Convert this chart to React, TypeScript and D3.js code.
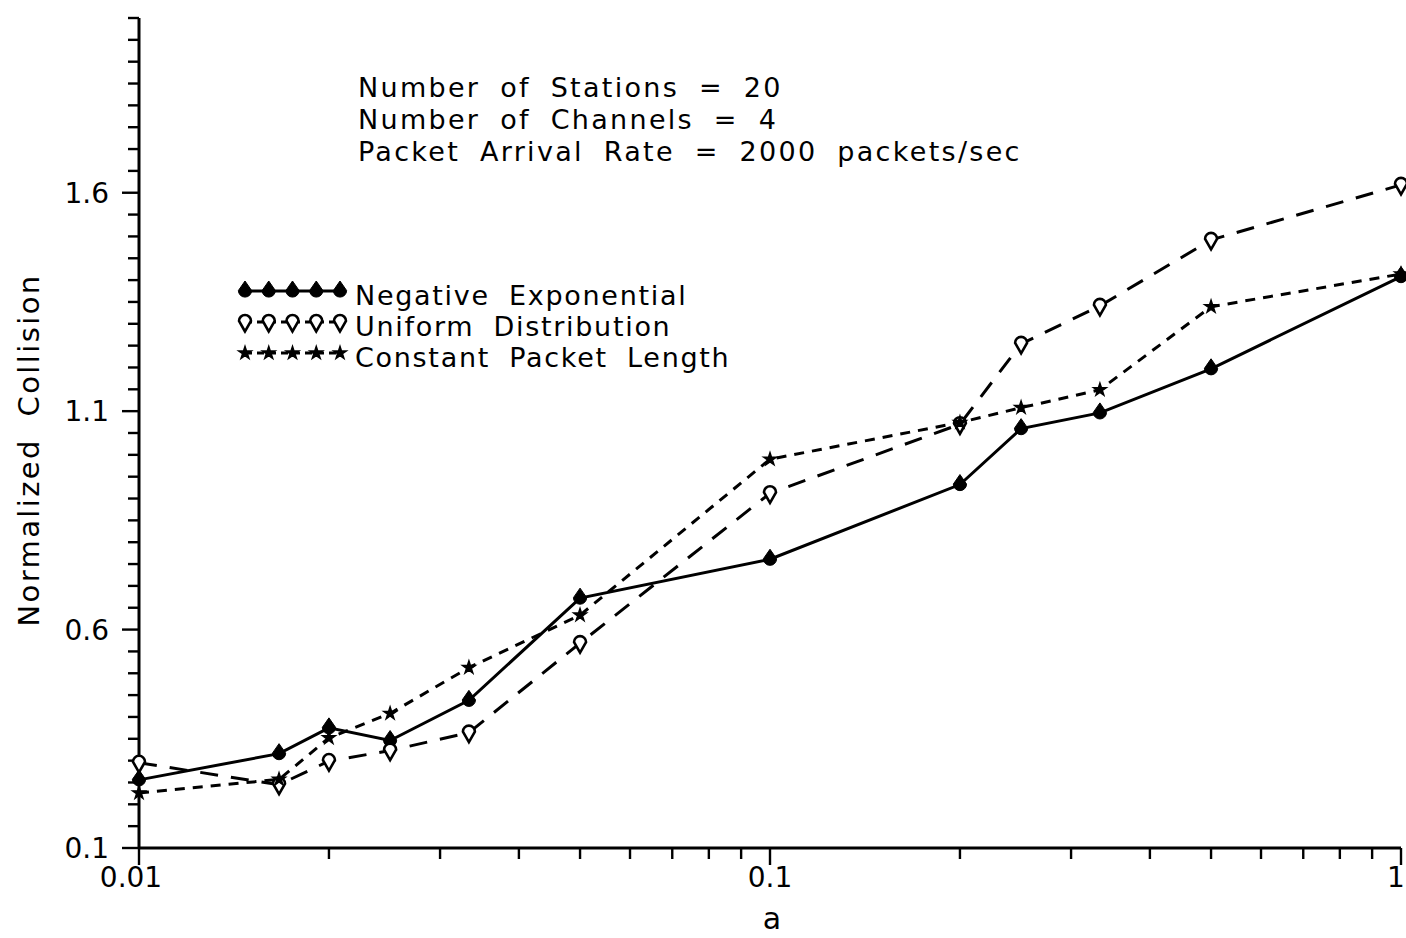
import React from "react";
import * as d3 from "d3";

// Normalized collision versus a, for three packet length distributions
const aValues = [0.01, 0.01667, 0.02, 0.025, 0.03333, 0.05, 0.1, 0.2, 0.25, 0.3333, 0.5, 1];
const negExp = [0.256, 0.316, 0.375, 0.346, 0.438, 0.672, 0.761, 0.932, 1.06, 1.096, 1.197, 1.408];
const uniform = [0.295, 0.245, 0.299, 0.323, 0.364, 0.569, 0.912, 1.07, 1.254, 1.341, 1.492, 1.618];
const constantLen = [0.226, 0.257, 0.352, 0.408, 0.513, 0.633, 0.99, 1.074, 1.108, 1.149, 1.339, 1.414];

const seriesNames = ["Negative Exponential", "Uniform Distribution", "Constant Packet Length"];
const xTickLabels = ["0.01", "0.1", "1"];
const xTickValues = [0.01, 0.1, 1];
const yTickLabels = ["0.1", "0.6", "1.1", "1.6"];
const yTickValues = [0.1, 0.6, 1.1, 1.6];
const infoLines = [
  "Number of Stations = 20",
  "Number of Channels = 4",
  "Packet Arrival Rate = 2000 packets/sec",
];

const W = 1406;
const H = 938;
const FONT = "'DejaVu Sans', Verdana, sans-serif";

const x = d3.scaleLog().domain([0.01, 1]).range([139, 1401]);
const y = d3.scaleLinear().domain([0.1, 2.0]).range([848, 18]);

const lineGen = d3
  .line<[number, number]>()
  .x((d) => x(d[0]))
  .y((d) => y(d[1]));

const filledDrop = "M0,-10 L6.6,-0.5 A6.6,6.6 0 1 1 -6.6,-0.5 Z";
const openDrop = "M0,9.5 L-6,-1 A6,6 0 1 1 6,-1 Z";
const starPath = d3.symbol(d3.symbolStar, 52)() as string;

type Style = { dash: string; marker: (k: string, cx: number, cy: number) => React.ReactNode };

const styles: Style[] = [
  {
    dash: "none",
    marker: (k, cx, cy) => (
      <path key={k} d={filledDrop} transform={`translate(${cx},${cy})`} fill="#000" stroke="#000" strokeWidth={1} />
    ),
  },
  {
    dash: "18,13",
    marker: (k, cx, cy) => (
      <path key={k} d={openDrop} transform={`translate(${cx},${cy})`} fill="#fff" stroke="#000" strokeWidth={2.6} />
    ),
  },
  {
    dash: "10,8",
    marker: (k, cx, cy) => (
      <path key={k} d={starPath} transform={`translate(${cx},${cy})`} fill="#000" stroke="#000" strokeWidth={1.4} />
    ),
  },
];

const seriesData = [negExp, uniform, constantLen];

export default function App() {
  // y ticks every 0.05, labelled every 0.5
  const yTicks = d3.range(0, 39).map((i) => ({ v: 0.1 + i * 0.05, major: i % 10 === 0 }));
  // x ticks: 1..9 in each decade plus the end value
  const xTicks: { v: number; major: boolean }[] = [];
  [0.01, 0.1].forEach((dec) => {
    for (let k = 1; k <= 9; k++) xTicks.push({ v: k * dec, major: k === 1 });
  });
  xTicks.push({ v: 1, major: true });

  const x0 = x(0.01);
  const y0 = y(0.1);

  const legendX0 = 245;
  const legendX1 = 340;
  const legendRows = [291, 322, 353];
  const legendTextY = [305, 336, 367];
  const infoY = [97, 129, 161];

  return (
    <svg
      width={W}
      height={H}
      viewBox={`0 0 ${W} ${H}`}
      style={{ position: "absolute", left: 0, top: 0, background: "#fff" }}
    >
      <rect x={0} y={0} width={W} height={H} fill="#fff" />

      {/* axes */}
      <line x1={x0} y1={y(2.0)} x2={x0} y2={y0} stroke="#000" strokeWidth={3} />
      <line x1={x0} y1={y0} x2={x(1)} y2={y0} stroke="#000" strokeWidth={3} />
      {yTicks.map((t, i) => (
        <line
          key={`yt${i}`}
          x1={x0 - (t.major ? 17 : 11)}
          x2={x0}
          y1={y(t.v)}
          y2={y(t.v)}
          stroke="#000"
          strokeWidth={2.4}
        />
      ))}
      {xTicks.map((t, i) => (
        <line
          key={`xt${i}`}
          x1={x(t.v)}
          x2={x(t.v)}
          y1={y0}
          y2={y0 + (t.major ? 17 : 11)}
          stroke="#000"
          strokeWidth={2.4}
        />
      ))}
      {yTickValues.map((v, i) => (
        <text key={`yl${i}`} x={109} y={y(v) + 10} textAnchor="end" fontFamily={FONT} fontSize={28}>
          {yTickLabels[i]}
        </text>
      ))}
      {xTickValues.map((v, i) => (
        <text
          key={`xl${i}`}
          x={Math.min(x(v) - (i === 0 ? 8 : 0), 1396)}
          y={887}
          textAnchor="middle"
          fontFamily={FONT}
          fontSize={28}
        >
          {xTickLabels[i]}
        </text>
      ))}
      <text x={772} y={929} textAnchor="middle" fontFamily={FONT} fontSize={30}>
        a
      </text>
      <text
        transform="translate(39,450) rotate(-90)"
        textAnchor="middle"
        fontFamily={FONT}
        fontSize={29}
        letterSpacing={2.4}
        wordSpacing={10}
      >
        Normalized Collision
      </text>

      {/* series */}
      {seriesData.map((vals, si) => {
        const pts = aValues.map((a, i) => [a, vals[i]] as [number, number]);
        return (
          <g key={`s${si}`}>
            <path
              d={lineGen(pts) as string}
              fill="none"
              stroke="#000"
              strokeWidth={3}
              strokeDasharray={styles[si].dash}
            />
            {pts.map((p, i) => styles[si].marker(`m${si}-${i}`, x(p[0]), y(p[1])))}
          </g>
        );
      })}

      {/* info block */}
      {infoLines.map((t, i) => (
        <text
          key={`info${i}`}
          x={358}
          y={infoY[i]}
          fontFamily={FONT}
          fontSize={27}
          letterSpacing={2.3}
          wordSpacing={9}
        >
          {t}
        </text>
      ))}

      {/* legend */}
      {seriesNames.map((name, i) => {
        const ly = legendRows[i];
        const mxs = d3.range(5).map((k) => legendX0 + (k * (legendX1 - legendX0)) / 4);
        return (
          <g key={`lg${i}`}>
            <line
              x1={legendX0}
              x2={legendX1}
              y1={ly}
              y2={ly}
              stroke="#000"
              strokeWidth={3}
              strokeDasharray={i === 0 ? "none" : "7,5"}
            />
            {mxs.map((mx, k) => styles[i].marker(`lm${i}-${k}`, mx, ly))}
            <text
              x={355}
              y={legendTextY[i]}
              fontFamily={FONT}
              fontSize={27}
              letterSpacing={1.7}
              wordSpacing={9}
            >
              {name}
            </text>
          </g>
        );
      })}
    </svg>
  );
}
